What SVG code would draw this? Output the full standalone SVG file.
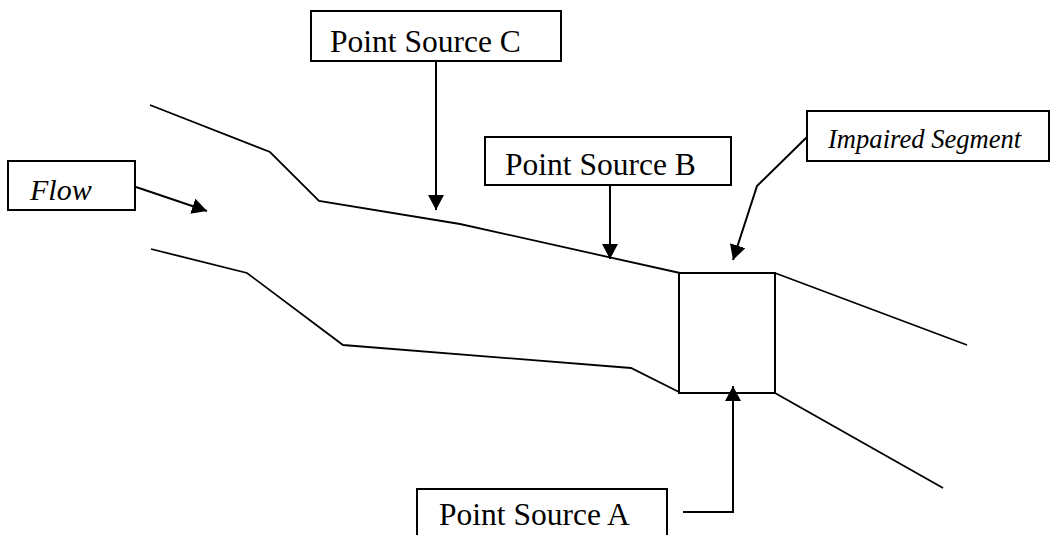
<svg xmlns="http://www.w3.org/2000/svg" width="1050" height="535" viewBox="0 0 1050 535">
  <defs>
    <marker id="ah" markerUnits="userSpaceOnUse" markerWidth="16" markerHeight="16" refX="15" refY="8" orient="auto">
      <path d="M0,0 L15,8 L0,16 z" fill="#000"/>
    </marker>
    <style>
      .box { fill: #fff; stroke: #000; stroke-width: 2; }
      .bank { fill: none; stroke: #000; stroke-width: 1.8; stroke-linejoin: miter; }
      .conn { fill: none; stroke: #000; stroke-width: 2; }
      .lbl { font-family: "Liberation Serif", "Times New Roman", serif; fill: #000; }
      .it { font-style: italic; }
    </style>
  </defs>
  <rect width="1050" height="535" fill="#fff"/>

  <g id="river">
    <polyline class="bank" points="150,105 270,152 319,201 460,224 680,273"/>
    <polyline class="bank" points="151,249 247,273 343,345 631,368 679,392"/>
    <polyline class="bank" points="775,273 967,345"/>
    <polyline class="bank" points="775,393 943,488"/>
  </g>

  <g id="impaired-segment-rect">
    <rect class="box" x="679" y="273" width="96" height="120" fill="none"/>
  </g>

  <g id="connectors">
    <line class="conn" x1="136" y1="187" x2="207" y2="211" marker-end="url(#ah)"/>
    <line class="conn" x1="436" y1="61" x2="436" y2="210" marker-end="url(#ah)"/>
    <line class="conn" x1="610" y1="186" x2="610" y2="259" marker-end="url(#ah)"/>
    <polyline class="conn" points="807,137 757,186 733,260" marker-end="url(#ah)"/>
    <polyline class="conn" points="683,512 733,512 733,386" marker-end="url(#ah)"/>
  </g>

  <g id="flow">
    <rect class="box" x="8" y="161" width="127" height="49"/>
    <text class="lbl it" x="30" y="200" font-size="30">Flow</text>
  </g>

  <g id="point-source-c">
    <rect class="box" x="311" y="11" width="250" height="50"/>
    <text class="lbl" x="330" y="52" font-size="31.5">Point Source C</text>
  </g>

  <g id="point-source-b">
    <rect class="box" x="485" y="137" width="246" height="48"/>
    <text class="lbl" x="505" y="175" font-size="31.5">Point Source B</text>
  </g>

  <g id="impaired-segment">
    <rect class="box" x="807" y="111" width="242" height="50"/>
    <text class="lbl it" x="828" y="148" font-size="26.6">Impaired Segment</text>
  </g>

  <g id="point-source-a">
    <rect class="box" x="417" y="489" width="250" height="60"/>
    <text class="lbl" x="439" y="525" font-size="31.5">Point Source A</text>
  </g>
</svg>
